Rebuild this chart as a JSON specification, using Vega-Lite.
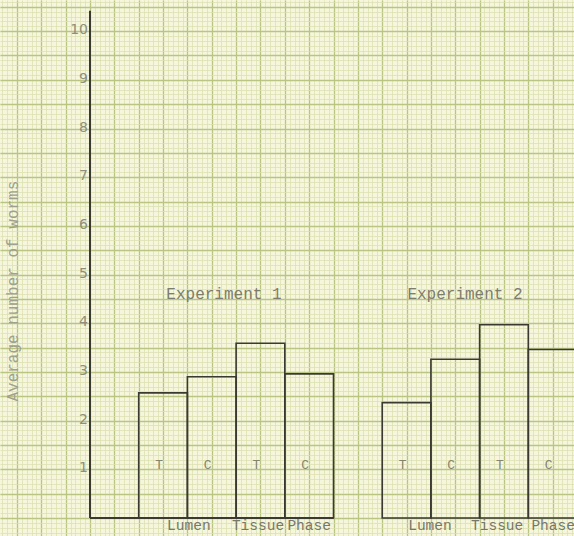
{
  "$schema": "https://vega.github.io/schema/vega-lite/v6.json",
  "width": 574,
  "height": 536,
  "autosize": "none",
  "padding": 0,
  "background": "#f5f6dc",
  "config": {"view": {"stroke": null}},
  "datasets": {
    "bars": [
      {"experiment": "Experiment 1", "site": "Lumen", "group": "T", "slot": 1, "worms": 2.57},
      {"experiment": "Experiment 1", "site": "Lumen", "group": "C", "slot": 2, "worms": 2.9},
      {"experiment": "Experiment 1", "site": "Tissue Phase", "group": "T", "slot": 3, "worms": 3.59},
      {"experiment": "Experiment 1", "site": "Tissue Phase", "group": "C", "slot": 4, "worms": 2.96},
      {"experiment": "Experiment 2", "site": "Lumen", "group": "T", "slot": 6, "worms": 2.37},
      {"experiment": "Experiment 2", "site": "Lumen", "group": "C", "slot": 7, "worms": 3.26},
      {"experiment": "Experiment 2", "site": "Tissue Phase", "group": "T", "slot": 8, "worms": 3.97},
      {"experiment": "Experiment 2", "site": "Tissue Phase", "group": "C", "slot": 9, "worms": 3.46}
    ],
    "ticks": [
      {"v": 1}, {"v": 2}, {"v": 3}, {"v": 4}, {"v": 5},
      {"v": 6}, {"v": 7}, {"v": 8}, {"v": 9}, {"v": 10}
    ],
    "frame": [
      {"x": 0, "x2": 0, "y": 0, "y2": 10.42},
      {"x": 0, "x2": 5, "y": 0, "y2": 0}
    ],
    "titles": [
      {"text": "Experiment 1", "x": 2.75, "y": 4.61},
      {"text": "Experiment 2", "x": 7.7, "y": 4.6}
    ],
    "sites": [
      {"text": "Lumen", "x": 2.03, "y": -0.17},
      {"text": "Tissue", "x": 3.45, "y": -0.17},
      {"text": "Phase", "x": 4.5, "y": -0.17},
      {"text": "Lumen", "x": 6.98, "y": -0.17},
      {"text": "Tissue", "x": 8.36, "y": -0.17},
      {"text": "Phase", "x": 9.51, "y": -0.17}
    ],
    "ytitle": [
      {"text": "Average number of worms", "x": -1.59, "y": 4.66}
    ]
  },
  "resolve": {"axis": {"x": "independent", "y": "independent"}},
  "layer": [
    {
      "data": {"name": "bars"},
      "transform": [{"calculate": "datum.slot + 1", "as": "slot_end"}],
      "mark": {"type": "bar", "fill": "#ffffff", "fillOpacity": 0, "stroke": "#3a3a30", "strokeWidth": 1.6, "clip": true},
      "encoding": {
        "x": {
          "field": "slot", "type": "quantitative",
          "scale": {"domain": [-1.848, 9.938], "nice": false, "zero": false},
          "axis": {
            "title": null, "labels": false, "ticks": false, "domain": false,
            "grid": true, "tickCount": 118, "gridColor": "#dbe0ad", "gridWidth": 0.7, "gridOpacity": 1
          }
        },
        "x2": {"field": "slot_end"},
        "y": {
          "field": "worms", "type": "quantitative",
          "scale": {"domain": [-0.37, 10.64], "nice": false, "zero": false},
          "axis": {
            "title": null, "labels": false, "ticks": false, "domain": false,
            "grid": true, "tickCount": 110, "gridColor": "#dbe0ad", "gridWidth": 0.7, "gridOpacity": 1
          }
        },
        "y2": {"datum": 0}
      }
    },
    {
      "data": {"name": "frame"},
      "mark": {"type": "rule", "stroke": "#3a3a30", "strokeWidth": 2},
      "encoding": {
        "x": {
          "field": "x", "type": "quantitative",
          "scale": {"domain": [-1.848, 9.938], "nice": false, "zero": false},
          "axis": {
            "title": null, "labels": false, "ticks": false, "domain": false,
            "grid": true, "tickCount": 24, "gridColor": "#bac583", "gridWidth": 1.3, "gridOpacity": 1
          }
        },
        "x2": {"field": "x2"},
        "y": {
          "field": "y", "type": "quantitative",
          "scale": {"domain": [-0.37, 10.64], "nice": false, "zero": false},
          "axis": {
            "title": null, "labels": false, "ticks": false, "domain": false,
            "grid": true, "tickCount": 22, "gridColor": "#bac583", "gridWidth": 1.3, "gridOpacity": 1
          }
        },
        "y2": {"field": "y2"}
      }
    },
    {
      "data": {"name": "bars"},
      "transform": [{"calculate": "datum.slot + 0.5", "as": "mid"}],
      "mark": {"type": "text", "font": "Liberation Mono", "fontSize": 13, "color": "#85856f", "dx": -4, "baseline": "middle"},
      "encoding": {
        "x": {"field": "mid", "type": "quantitative", "scale": {"domain": [-1.848, 9.938], "nice": false, "zero": false}, "axis": null},
        "y": {"datum": 1.08, "type": "quantitative", "scale": {"domain": [-0.37, 10.64], "nice": false, "zero": false}, "axis": null},
        "text": {"field": "group"}
      }
    },
    {
      "data": {"name": "ticks"},
      "mark": {"type": "text", "font": "DejaVu Sans", "fontSize": 14, "color": "#8f8f7c", "align": "right", "baseline": "middle", "dx": -2, "dy": -1},
      "encoding": {
        "x": {"datum": 0, "type": "quantitative", "scale": {"domain": [-1.848, 9.938], "nice": false, "zero": false}, "axis": null},
        "y": {"field": "v", "type": "quantitative", "scale": {"domain": [-0.37, 10.64], "nice": false, "zero": false}, "axis": null},
        "text": {"field": "v"}
      }
    },
    {
      "data": {"name": "titles"},
      "mark": {"type": "text", "font": "Liberation Mono", "fontSize": 16, "color": "#7d7d6c", "align": "center", "baseline": "middle"},
      "encoding": {
        "x": {"field": "x", "type": "quantitative", "scale": {"domain": [-1.848, 9.938], "nice": false, "zero": false}, "axis": null},
        "y": {"field": "y", "type": "quantitative", "scale": {"domain": [-0.37, 10.64], "nice": false, "zero": false}, "axis": null},
        "text": {"field": "text"}
      }
    },
    {
      "data": {"name": "sites"},
      "mark": {"type": "text", "font": "Liberation Mono", "fontSize": 14.5, "color": "#77776a", "align": "center", "baseline": "middle"},
      "encoding": {
        "x": {"field": "x", "type": "quantitative", "scale": {"domain": [-1.848, 9.938], "nice": false, "zero": false}, "axis": null},
        "y": {"field": "y", "type": "quantitative", "scale": {"domain": [-0.37, 10.64], "nice": false, "zero": false}, "axis": null},
        "text": {"field": "text"}
      }
    },
    {
      "data": {"name": "ytitle"},
      "mark": {"type": "text", "font": "Liberation Mono", "fontSize": 16, "color": "#a0a08e", "align": "center", "baseline": "middle", "angle": 270},
      "encoding": {
        "x": {"field": "x", "type": "quantitative", "scale": {"domain": [-1.848, 9.938], "nice": false, "zero": false}, "axis": null},
        "y": {"field": "y", "type": "quantitative", "scale": {"domain": [-0.37, 10.64], "nice": false, "zero": false}, "axis": null},
        "text": {"field": "text"}
      }
    }
  ]
}
